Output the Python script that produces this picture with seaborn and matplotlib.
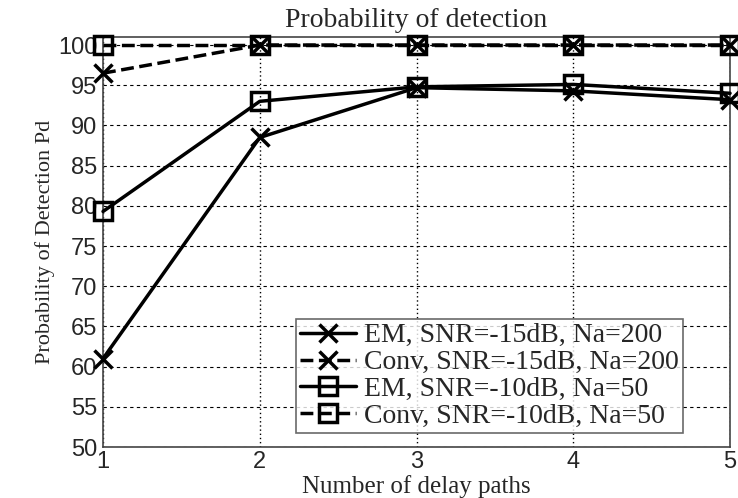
import numpy as np
import pandas as pd
import matplotlib
matplotlib.use("Agg")
import matplotlib.pyplot as plt
import seaborn as sns

# data
paths = [1, 2, 3, 4, 5]
em_snr15 = [61.0, 88.5, 94.7, 94.3, 93.2]
conv_snr15 = [96.5, 100.0, 100.0, 100.0, 100.0]
em_snr10 = [79.3, 93.0, 94.8, 95.1, 94.0]
conv_snr10 = [100.0, 100.0, 100.0, 100.0, 100.0]
labels = ["EM, SNR=-15dB, Na=200", "Conv, SNR=-15dB, Na=200",
          "EM, SNR=-10dB, Na=50", "Conv, SNR=-10dB, Na=50"]
yticks = [50, 55, 60, 65, 70, 75, 80, 85, 90, 95, 100]

sns.set_style("white")
plt.rcParams['font.family'] = ['Liberation Sans', 'DejaVu Sans']

fig = plt.figure(figsize=(7.38, 4.98), dpi=100)
ax = fig.add_axes([0.1396, 0.1024, 0.8496, 0.8233])

series = [em_snr15, conv_snr15, em_snr10, conv_snr10]
styles = [('x', '-'), ('x', '--'), ('s', '-'), ('s', '--')]
for vals, lab, (mk, ls) in zip(series, labels, styles):
    sns.lineplot(x=paths, y=vals, ax=ax, label=lab, color='black',
                 linestyle=ls, linewidth=2.5, marker=mk, markersize=13,
                 markeredgewidth=2.5, markerfacecolor='none',
                 markeredgecolor='black', zorder=3, clip_on=False)

ax.set_xlim(1, 5)
ax.set_ylim(50, 101)
ax.set_xticks(paths)
ax.set_yticks(yticks)
ax.tick_params(axis='both', labelsize=17, length=4, direction='in')
ax.tick_params(axis='y', pad=4)
ax.tick_params(axis='x', pad=3)

ax.xaxis.grid(True, linestyle=(0, (1, 2)), color='black', linewidth=1)
ax.yaxis.grid(True, linestyle=(0, (3, 3)), color='black', linewidth=0.8)
ax.set_axisbelow(True)
for sp in ax.spines.values():
    sp.set_visible(True)
    sp.set_color('#444444')
    sp.set_linewidth(1.2)

serif = ['Liberation Serif', 'DejaVu Serif']
ax.set_title("Probability of detection", fontsize=20, family=serif, pad=7)
ax.set_xlabel("Number of delay paths", fontsize=18, family=serif, labelpad=1)
ax.set_ylabel("Probability of Detection Pd", fontsize=16, family=serif, labelpad=2)

leg = ax.legend(loc='lower right', bbox_to_anchor=(0.925, 0.034),
                prop={'family': serif, 'size': 20}, frameon=True,
                fancybox=False, edgecolor='#444444', handlelength=2.0,
                borderpad=0.15, labelspacing=0.05, handletextpad=0.3,
                borderaxespad=0.0)
leg.get_frame().set_linewidth(1.2)

fig.savefig("out.png", dpi=100)
